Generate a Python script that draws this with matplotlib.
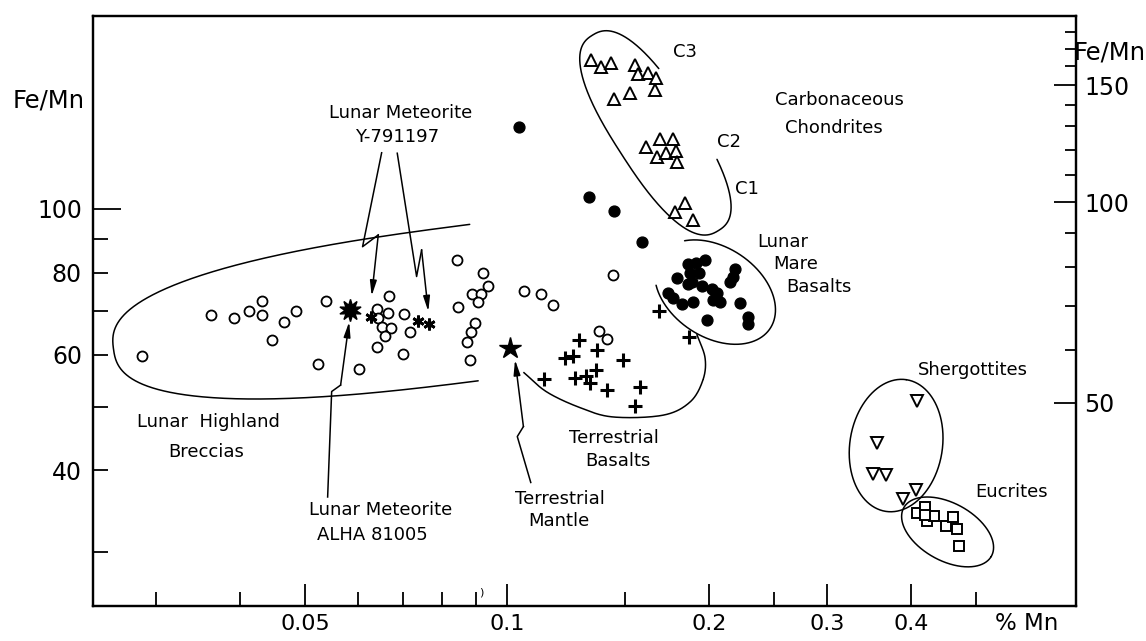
import numpy as np
import matplotlib
matplotlib.use("Agg")
import matplotlib.pyplot as plt
from matplotlib.ticker import FixedLocator, FuncFormatter, NullFormatter

plt.rcParams["font.family"] = ["DejaVu Sans"]

# ---------------- data: % Mn versus Fe/Mn ----------------
highland_mn = [0.0286, 0.0362, 0.0392, 0.0413, 0.0432, 0.0432, 0.0466, 0.0447, 0.0485,
               0.0537, 0.0523, 0.0602, 0.0640, 0.0666, 0.0664, 0.0643, 0.0651, 0.0672,
               0.0659, 0.0703, 0.0718, 0.0641, 0.0700, 0.0843, 0.0922, 0.0936, 0.0886,
               0.0915, 0.0906, 0.0846, 0.0897, 0.0884, 0.0872, 0.0881, 0.1061, 0.1124,
               0.1170, 0.1440, 0.1371, 0.1408]
highland_femn = [59.8, 69.0, 68.3, 69.8, 72.3, 69.0, 67.2, 63.2, 69.8,
                 72.3, 58.1, 57.0, 70.4, 73.7, 69.3, 68.1, 66.0, 65.9,
                 64.1, 69.1, 64.9, 61.6, 60.2, 83.6, 79.9, 76.4, 74.2,
                 74.2, 72.2, 71.0, 67.0, 64.9, 62.6, 58.8, 75.0, 74.1,
                 71.3, 79.3, 65.2, 63.3]

mare_mn = [0.1043, 0.1325, 0.1445, 0.1591,
           0.1863, 0.1913, 0.1973, 0.1874, 0.1935, 0.1790, 0.1885, 0.1859,
           0.2187, 0.2174, 0.2150, 0.1950, 0.2019, 0.2054, 0.2030, 0.2077,
           0.1739, 0.1770, 0.1821, 0.1895, 0.2225, 0.1984, 0.2289, 0.2289]
mare_femn = [133.5, 104.4, 99.4, 89.2,
             82.4, 82.8, 83.6, 79.8, 80.0, 78.6, 77.5, 76.8,
             80.9, 78.7, 77.5, 76.3, 75.4, 74.4, 72.7, 72.2,
             74.4, 73.1, 71.6, 72.1, 71.8, 67.7, 68.5, 66.7]

chondrite_mn = [0.1332, 0.1380, 0.1429, 0.1549, 0.1569, 0.1623, 0.1668, 0.1662, 0.1525, 0.1443,
                0.1613, 0.1691, 0.1765, 0.1672, 0.1728, 0.1783, 0.1790,
                0.1842, 0.1780, 0.1891]
chondrite_femn = [168.7, 164.6, 166.7, 165.6, 160.3, 161.2, 158.5, 152.0, 150.3, 147.0,
                  124.3, 128.0, 128.0, 120.1, 121.9, 122.5, 117.8,
                  102.0, 98.8, 96.3]

terr_basalt_mn = [0.1687, 0.1869, 0.1280, 0.1360, 0.1220, 0.1255, 0.1487, 0.1357,
                  0.1263, 0.1311, 0.1329, 0.1135, 0.1408, 0.1578, 0.1552]
terr_basalt_femn = [70.0, 63.7, 63.2, 61.0, 59.3, 59.7, 58.9, 56.8,
                    55.3, 55.7, 54.3, 55.0, 53.0, 53.6, 50.1]

shergottite_mn = [0.4079, 0.3556, 0.3505, 0.3665, 0.3892, 0.4074]
shergottite_femn = [50.9, 44.0, 39.4, 39.3, 36.2, 37.3]

eucrite_mn = [0.4076, 0.4190, 0.4222, 0.4332, 0.4510, 0.4620, 0.4687, 0.4711, 0.4200]
eucrite_femn = [34.4, 35.1, 33.5, 34.1, 32.9, 33.9, 32.5, 30.7, 34.2]

y791197_mn = [0.0628, 0.0738, 0.0765]
y791197_femn = [68.4, 67.6, 66.7]

alha81005_mn = [0.0583]
alha81005_femn = [70.2]

mantle_mn = [0.101]
mantle_femn = [61.4]

# axis ticks
x_major = [0.05, 0.1, 0.2, 0.3, 0.4]
x_major_labels = ["0.05", "0.1", "0.2", "0.3", "0.4"]
x_minor = [0.03, 0.04, 0.06, 0.07, 0.08, 0.09, 0.15, 0.25, 0.5]
y_left_minor = [30, 40, 50, 60, 70, 80, 90]
y_left_labels = [40, 60, 80, 100]
y_right_major = [50, 100, 150]
y_right_minor = [60, 70, 80, 90, 110, 120, 130, 140, 160, 170, 180]

# ---------------- figure ----------------
fig = plt.figure(figsize=(11.46, 6.41), dpi=100)
ax = fig.add_axes([0.0812, 0.0546, 0.8578, 0.9204])
ax.set_xscale("log")
ax.set_yscale("log")
ax.set_xlim(0.02417, 0.7046)
ax.set_ylim(24.83, 196.8)

LW = 1.1
K = "black"


def envelope(mn, femn, a, b, angle, t0=0.0, t1=360.0, power=2.0):
    """Superellipse drawn in log10 space (a, b in decades)."""
    t = np.radians(np.linspace(t0, t1, 600))
    c, s = np.cos(t), np.sin(t)
    u = a * np.sign(c) * np.abs(c) ** (2.0 / power)
    v = b * np.sign(s) * np.abs(s) ** (2.0 / power)
    th = np.radians(angle)
    lx = np.log10(mn) + u * np.cos(th) - v * np.sin(th)
    ly = np.log10(femn) + u * np.sin(th) + v * np.cos(th)
    ax.plot(10 ** lx, 10 ** ly, color=K, lw=LW, solid_capstyle="round")


def smooth_curve(mn, femn, steps=30):
    """Catmull-Rom curve through points, interpolated in log10 space."""
    P = np.column_stack([np.log10(mn), np.log10(femn)])
    P = np.vstack([2 * P[0] - P[1], P, 2 * P[-1] - P[-2]])
    out = []
    for i in range(1, len(P) - 2):
        p0, p1, p2, p3 = P[i - 1], P[i], P[i + 1], P[i + 2]
        tt = np.linspace(0, 1, steps)[:, None]
        seg = 0.5 * ((2 * p1) + (-p0 + p2) * tt + (2 * p0 - 5 * p1 + 4 * p2 - p3) * tt ** 2
                     + (-p0 + 3 * p1 - 3 * p2 + p3) * tt ** 3)
        out.append(seg)
    out = np.vstack(out)
    ax.plot(10 ** out[:, 0], 10 ** out[:, 1], color=K, lw=LW)


# group envelopes
envelope(0.0912, 72.2, 0.551, 0.119, 7.5, 90.0, 269.3, power=2.6)      # highland breccias
envelope(0.1664, 130.6, 0.176, 0.060, -57.8, 112.0, 427.0, power=2.5)  # carbonaceous chondrites
envelope(0.2042, 74.7, 0.099, 0.068, -35.0, 218.0, 506.0)             # mare basalts
envelope(0.3800, 43.6, 0.1015, 0.069, 81.5)                           # shergottites
envelope(0.4534, 32.2, 0.075, 0.0436, -30.0)                          # eucrites
smooth_curve([0.1060, 0.1147, 0.1285, 0.1439, 0.1708, 0.1874, 0.1959, 0.1973, 0.1919],
             [56.3, 52.6, 49.8, 48.2, 48.5, 50.8, 54.9, 59.3, 64.3])   # terrestrial basalts

# data points
ax.plot(highland_mn, highland_femn, "o", ms=7.2, mfc="white", mec=K, mew=1.3, ls="none")
ax.plot(mare_mn, mare_femn, "o", ms=7.8, mfc=K, mec=K, ls="none")
ax.plot(chondrite_mn, chondrite_femn, "^", ms=8.5, mfc="white", mec=K, mew=1.4, ls="none")
ax.plot(terr_basalt_mn, terr_basalt_femn, "+", ms=9.5, mec=K, mew=2.2, ls="none")
ax.plot(shergottite_mn, shergottite_femn, "v", ms=8.5, mfc="white", mec=K, mew=1.4, ls="none")
ax.plot(eucrite_mn, eucrite_femn, "s", ms=7.2, mfc="white", mec=K, mew=1.4, ls="none")
ax.plot(y791197_mn, y791197_femn, marker=(6, 2, 0), ms=8.5, mec=K, mew=2.0, ls="none")
ax.plot(alha81005_mn, alha81005_femn, marker=(10, 1, 0), ms=16, mfc=K, mec=K, ls="none")
ax.plot(mantle_mn, mantle_femn, "*", ms=16, mfc=K, mec=K, ls="none")


# zig-zag leader arrows
def leader(path):
    xs = [p[0] for p in path]
    ys = [p[1] for p in path]
    ax.plot(xs[:-1], ys[:-1], color=K, lw=LW)
    ax.annotate("", xy=path[-1], xytext=path[-2],
                arrowprops=dict(arrowstyle="-|>,head_length=0.9,head_width=0.2",
                                color=K, lw=LW, shrinkA=0, shrinkB=0))


leader([(0.06505, 121.8), (0.06093, 87.6), (0.0643, 91.3), (0.06286, 73.7)])
leader([(0.06863, 121.6), (0.07334, 78.9), (0.07461, 86.6), (0.07634, 69.8)])
leader([(0.05405, 36.4), (0.0548, 52.7), (0.05651, 53.9), (0.0582, 67.3)])
leader([(0.1085, 38.3), (0.1036, 45.0), (0.1058, 46.6), (0.1028, 58.9)])

# labels inside the plot
FS = 13
labels = [
    ("Lunar Meteorite", 0.0695, 140.0, "center"),
    ("Y-791197", 0.0685, 128.7, "center"),
    ("Lunar Meteorite", 0.0649, 34.8, "center"),
    ("ALHA 81005", 0.0631, 31.9, "center"),
    ("Lunar  Highland", 0.0359, 47.3, "center"),
    ("Breccias", 0.0356, 42.6, "center"),
    ("Terrestrial", 0.1199, 36.1, "center"),
    ("Mantle", 0.1195, 33.4, "center"),
    ("Terrestrial", 0.1444, 44.7, "center"),
    ("Basalts", 0.1461, 41.3, "center"),
    ("Lunar", 0.2358, 89.0, "left"),
    ("Mare", 0.2489, 82.4, "left"),
    ("Basalts", 0.2611, 76.1, "left"),
    ("Carbonaceous", 0.3130, 146.6, "center"),
    ("Chondrites", 0.3066, 132.7, "center"),
    ("C3", 0.1842, 173.7, "center"),
    ("C2", 0.2142, 126.6, "center"),
    ("C1", 0.2279, 107.2, "center"),
    ("Shergottites", 0.494, 56.8, "center"),
    ("Eucrites", 0.5638, 37.1, "center"),
]
for txt, x, y, ha in labels:
    ax.text(x, y, txt, fontsize=FS, ha=ha, va="center")
ax.text(0.0917, 26.0, ")", fontsize=8, ha="center", va="center")

# axes styling
for sp in ax.spines.values():
    sp.set_linewidth(1.6)

ax.xaxis.set_major_locator(FixedLocator(x_major))
ax.xaxis.set_major_formatter(FuncFormatter(lambda v, p: x_major_labels[x_major.index(v)]
                                           if v in x_major else ""))
ax.xaxis.set_minor_locator(FixedLocator(x_minor))
ax.xaxis.set_minor_formatter(NullFormatter())
ax.tick_params(axis="x", which="major", direction="in", length=16, width=1.3,
               labelsize=16, pad=5.5, top=False)
ax.tick_params(axis="x", which="minor", direction="in", length=10, width=1.3, top=False)

ax.yaxis.set_major_locator(FixedLocator([100]))
ax.yaxis.set_major_formatter(FuncFormatter(lambda v, p: f"{v:g}"))
ax.yaxis.set_minor_locator(FixedLocator(y_left_minor))
ax.yaxis.set_minor_formatter(FuncFormatter(lambda v, p: f"{v:g}" if v in y_left_labels else ""))
ax.tick_params(axis="y", which="major", direction="in", length=20, width=1.3,
               labelsize=17, pad=8, right=False)
ax.tick_params(axis="y", which="minor", direction="in", length=11, width=1.3,
               labelsize=17, pad=8, right=False)

# right-hand Fe/Mn scale
ax2 = ax.twinx()
ax2.set_yscale("log")
ax2.set_ylim(24.79, 190.4)
ax2.yaxis.set_major_locator(FixedLocator(y_right_major))
ax2.yaxis.set_major_formatter(FuncFormatter(lambda v, p: f"{v:g}"))
ax2.yaxis.set_minor_locator(FixedLocator(y_right_minor))
ax2.yaxis.set_minor_formatter(NullFormatter())
ax2.tick_params(axis="y", which="major", direction="in", length=16, width=1.3,
                labelsize=17, pad=6)
ax2.tick_params(axis="y", which="minor", direction="in", length=8, width=1.3)
for sp in ax2.spines.values():
    sp.set_linewidth(1.6)

# axis titles
ax.text(-0.0448, 0.8576, "Fe/Mn", transform=ax.transAxes, fontsize=17.5,
        ha="center", va="center")
ax.text(1.0341, 0.939, "Fe/Mn", transform=ax.transAxes, fontsize=17.5,
        ha="center", va="center")
ax.text(0.9502, -0.0305, "% Mn", transform=ax.transAxes, fontsize=16.5,
        ha="center", va="center")

fig.savefig("out.png", dpi=100)
